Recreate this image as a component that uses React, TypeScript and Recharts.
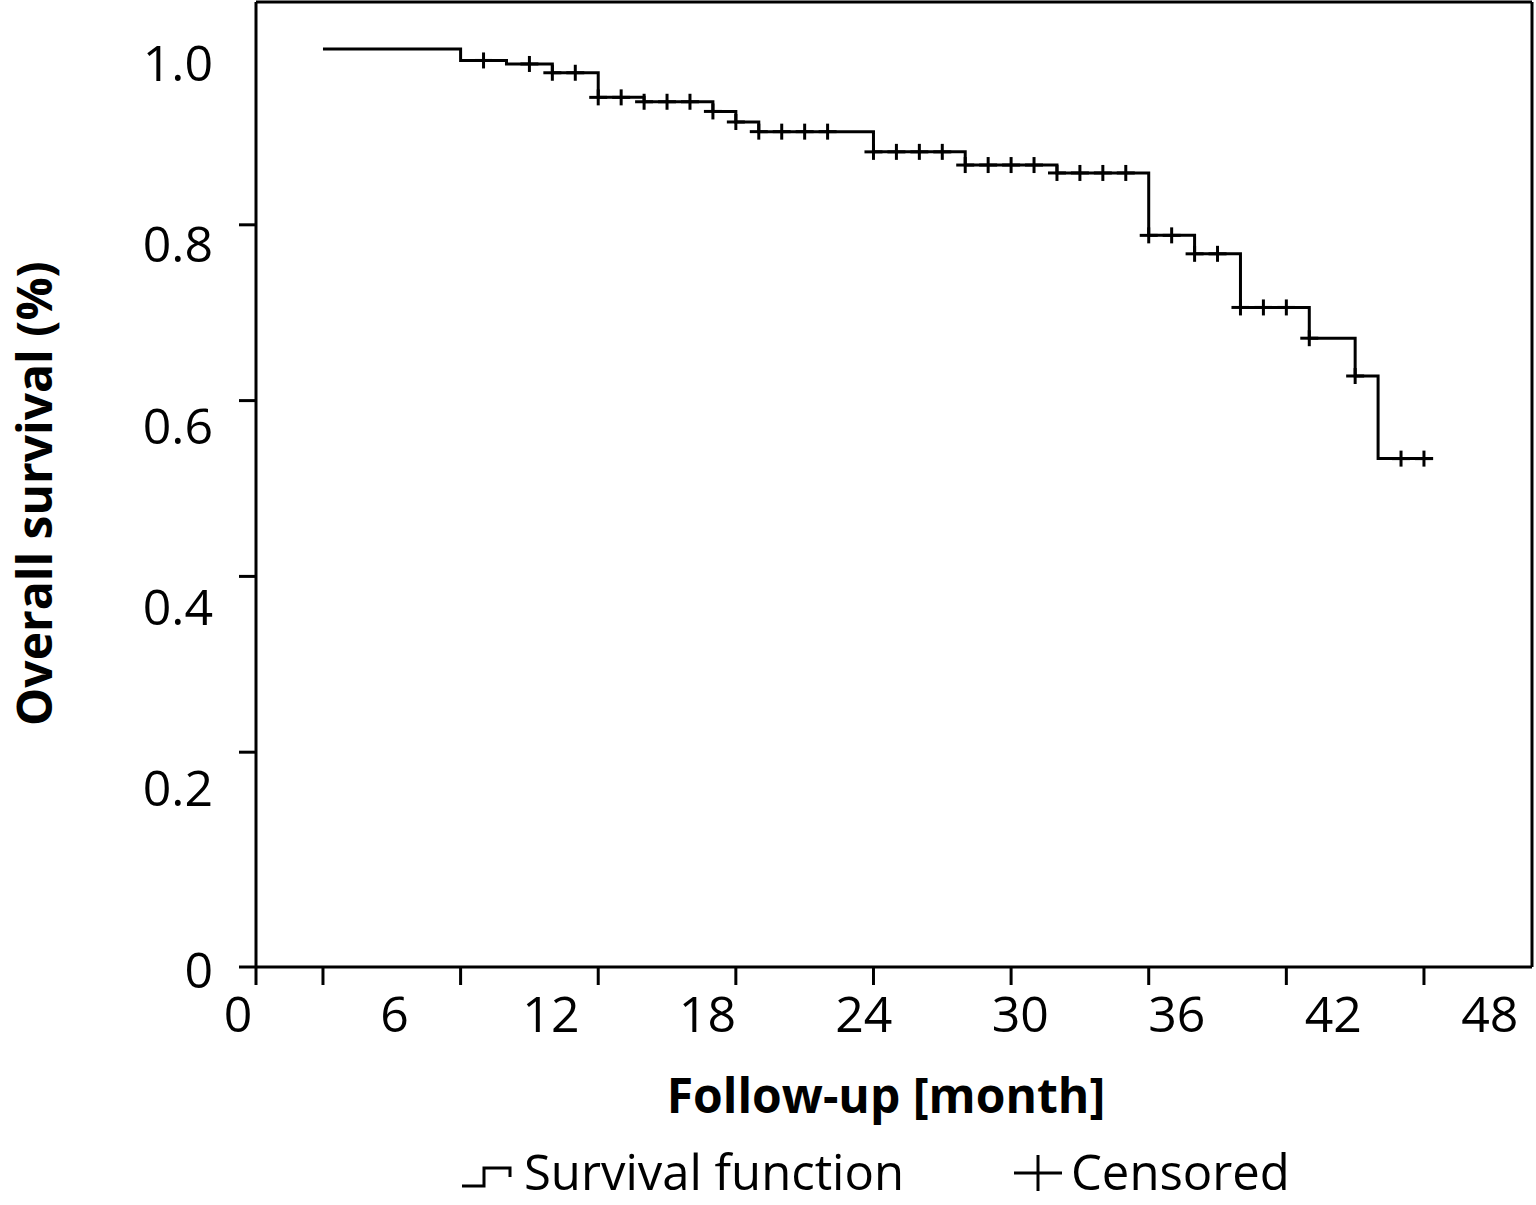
import React from 'react';
import { ComposedChart, Line, Scatter, XAxis, YAxis, ReferenceLine, Legend } from 'recharts';

// Kaplan–Meier step curve (time in months, survival proportion)
const stepTimes = [0, 6, 8, 10, 12, 14, 17, 18, 19, 24, 28, 32, 36, 38, 40, 43, 45, 46, 48.4];
const stepSurvival = [1.0, 0.987, 0.983, 0.973, 0.945, 0.94, 0.929, 0.917, 0.906, 0.883, 0.868, 0.859, 0.788, 0.767, 0.706, 0.671, 0.628, 0.534, 0.534];

// Censored observations
const censorTimes = [7, 9, 10, 11, 12, 13, 14, 15, 16, 17, 18, 19, 20, 21, 22, 24, 25, 26, 27, 28, 29, 30, 31, 32, 33, 34, 35, 36, 37, 38, 39, 40, 41, 42, 43, 45, 47, 48];
const censorSurvival = [0.987, 0.983, 0.973, 0.973, 0.945, 0.945, 0.94, 0.94, 0.94, 0.929, 0.917, 0.906, 0.906, 0.906, 0.906, 0.883, 0.883, 0.883, 0.883, 0.868, 0.868, 0.868, 0.868, 0.859, 0.859, 0.859, 0.859, 0.788, 0.788, 0.767, 0.767, 0.706, 0.706, 0.706, 0.671, 0.628, 0.534, 0.534];

// Tick labels
const xTickValues = [0, 6, 12, 18, 24, 30, 36, 42, 48];
const xTickLabels = ['0', '6', '12', '18', '24', '30', '36', '42', '48'];
const yTickValues = [0, 0.2, 0.4, 0.6, 0.8, 1.0];
const yTickLabels = ['0', '0.2', '0.4', '0.6', '0.8', '1.0'];
const yTickMarks = [0.2, 0.4, 0.6, 0.8];

const xAxisTitle = 'Follow-up [month]';
const yAxisTitle = 'Overall survival (%)';
const legendLabels = ['Survival function', 'Censored'];

const curveData = stepTimes.map((t, i) => ({ t, s: stepSurvival[i] }));
const censorData = censorTimes.map((t, i) => ({ t, s: censorSurvival[i] }));

// axis domains (data axes)
const X_MIN = -2.92;
const X_MAX = 52.71;
const Y_MIN = -0.0444;
const Y_MAX = 1.0535;

// label axes (the printed labels are spaced differently from the tick marks)
const XLAB_DOMAIN: [number, number] = [0.69, 49.62];
const YLAB_DOMAIN: [number, number] = [0.0033, 1.0672];

const FONT = '"Open Sans", "Noto Sans", sans-serif';
const INK = '#000';

const Nothing = () => <g />;

const Cross = (props: any) => {
  const { cx, cy } = props;
  if (cx == null || cy == null) return <g />;
  return (
    <g>
      <line x1={cx - 9} x2={cx + 9} y1={cy} y2={cy} stroke={INK} strokeWidth={3} />
      <line x1={cx} x2={cx} y1={cy - 8} y2={cy + 8} stroke={INK} strokeWidth={3} />
    </g>
  );
};

const XTitle = (props: any) => {
  const vb = props.viewBox || { x: 256, y: 985, width: 1276, height: 150 };
  return (
    <text
      x={vb.x + vb.width / 2 - 8}
      y={vb.y + 128}
      textAnchor="middle"
      fontFamily={FONT}
      fontWeight={700}
      fontSize={48}
      fill={INK}
    >
      {xAxisTitle}
    </text>
  );
};

const YTitle = (props: any) => {
  const vb = props.viewBox || { x: 0, y: 2, width: 239, height: 965 };
  const x = vb.x + 52;
  const y = vb.y + vb.height / 2 + 9;
  return (
    <text
      x={x}
      y={y}
      transform={`rotate(-90, ${x}, ${y})`}
      textAnchor="middle"
      fontFamily={FONT}
      fontWeight={700}
      fontSize={48}
      fill={INK}
    >
      {yAxisTitle}
    </text>
  );
};

const LegendContent = () => (
  <svg width={1536} height={70} style={{ display: 'block' }}>
    <path d="M462,51 H484 V33 H510 V42" fill="none" stroke={INK} strokeWidth={3} />
    <text x={524} y={55} fontFamily={FONT} fontSize={49} fill={INK}>
      {legendLabels[0]}
    </text>
    <line x1={1014} x2={1062} y1={38} y2={38} stroke={INK} strokeWidth={3} />
    <line x1={1038} x2={1038} y1={20} y2={56} stroke={INK} strokeWidth={3} />
    <text x={1071} y={55} fontFamily={FONT} fontSize={49} fill={INK}>
      {legendLabels[1]}
    </text>
  </svg>
);

const axisStroke = { stroke: INK, strokeWidth: 3 };
const tickFont = { fontSize: 50, fill: INK, fontFamily: FONT };

export default function App() {
  return (
    <div style={{ width: 1536, height: 1205, background: '#fff' }}>
      <style>{'body{margin:0;overflow:hidden;background:#fff}'}</style>
      <ComposedChart width={1536} height={1205} data={curveData} margin={{ top: 2, right: 4, bottom: 0, left: 0 }}>
        <XAxis
          xAxisId="d"
          dataKey="t"
          type="number"
          domain={[X_MIN, X_MAX]}
          ticks={[X_MIN, ...xTickValues]}
          allowDataOverflow
          interval={0}
          height={18}
          tickSize={18}
          tick={Nothing}
          axisLine={axisStroke}
          tickLine={axisStroke}
        />
        <XAxis
          xAxisId="lab"
          dataKey="t"
          type="number"
          domain={XLAB_DOMAIN}
          ticks={xTickValues}
          tickFormatter={(v: number) => xTickLabels[xTickValues.indexOf(v)]}
          allowDataOverflow
          interval={0}
          height={150}
          tickSize={0}
          tickMargin={11}
          axisLine={false}
          tickLine={false}
          tick={tickFont}
          label={{ content: XTitle }}
        />
        <YAxis
          yAxisId="lab"
          dataKey="s"
          type="number"
          domain={YLAB_DOMAIN}
          ticks={yTickValues}
          tickFormatter={(v: number) => yTickLabels[yTickValues.indexOf(v)]}
          allowDataOverflow
          interval={0}
          width={239}
          tickSize={0}
          tickMargin={26}
          axisLine={false}
          tickLine={false}
          tick={tickFont}
          label={{ content: YTitle }}
        />
        <YAxis
          yAxisId="d"
          dataKey="s"
          type="number"
          domain={[Y_MIN, Y_MAX]}
          ticks={[Y_MIN, ...yTickMarks]}
          allowDataOverflow
          interval={0}
          width={17}
          tickSize={17}
          tick={Nothing}
          axisLine={axisStroke}
          tickLine={axisStroke}
        />
        <ReferenceLine xAxisId="d" yAxisId="d" y={Y_MAX} stroke={INK} strokeWidth={3} />
        <ReferenceLine xAxisId="d" yAxisId="d" x={X_MAX} stroke={INK} strokeWidth={3} />
        <Line
          xAxisId="d"
          yAxisId="d"
          data={curveData}
          dataKey="s"
          type="stepAfter"
          stroke={INK}
          strokeWidth={3}
          dot={false}
          activeDot={false}
          isAnimationActive={false}
        />
        <Scatter
          xAxisId="d"
          yAxisId="d"
          data={censorData}
          dataKey="s"
          shape={Cross}
          isAnimationActive={false}
        />
        <Legend
          verticalAlign="bottom"
          content={LegendContent}
          wrapperStyle={{ position: 'absolute', left: 0, bottom: 0, width: 1536, height: 70, margin: 0, padding: 0 }}
        />
      </ComposedChart>
    </div>
  );
}
